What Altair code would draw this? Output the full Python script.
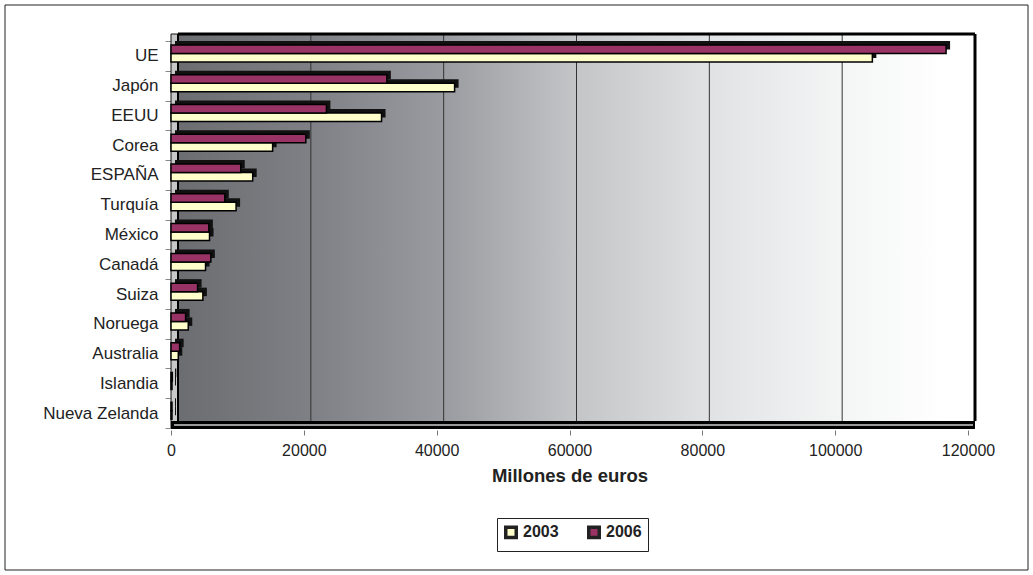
import altair as alt
import pandas as pd

# Data (millones de euros)
paises = ["UE", "Japón", "EEUU", "Corea", "ESPAÑA", "Turquía", "México",
          "Canadá", "Suiza", "Noruega", "Australia", "Islandia", "Nueva Zelanda"]
v2003 = [105600, 42700, 31700, 15300, 12300, 9800, 5800, 5200, 4800, 2600, 1100, 150, 150]
v2006 = [116700, 32500, 23400, 20300, 10500, 8100, 5700, 6000, 4000, 2200, 1300, 200, 150]
series = ["2003", "2006"]
colors = ["#FFFFCC", "#993366"]
x_ticks = [0, 20000, 40000, 60000, 80000, 100000, 120000]
grid_vals = [20000, 40000, 60000, 80000, 100000]

W, H = 797, 387   # front plane of the plot
D = 7             # depth of the 3-D back wall

df = pd.DataFrame({
    "pais": paises * 2,
    "serie": ["2003"] * len(paises) + ["2006"] * len(paises),
    "valor": v2003 + v2006,
})
grid_df = pd.DataFrame({"valor": grid_vals})
one = pd.DataFrame({"k": [0]})

x_scale = alt.Scale(domain=[0, 120000], nice=False)
y_scale = alt.Scale(domain=paises, paddingInner=0, paddingOuter=0)

x_axis = alt.Axis(values=x_ticks, format="d", domain=False, grid=False,
                  tickSize=5, tickColor="#777", offset=2,
                  labelFontSize=16, labelColor="#222", labelPadding=7,
                  labelOverlap=False, labelFlush=False,
                  title="Millones de euros", titleFontSize=18.5,
                  titleFontWeight="bold", titleColor="#222", titlePadding=8)
y_axis = alt.Axis(title=None, tickBand="extent", tickSize=6, tickColor="#888",
                  domainColor="#888", labelFontSize=17, labelColor="#222",
                  labelPadding=7)

# outer frame of the figure
frame = alt.Chart(one).mark_rect(filled=False, stroke="#222", strokeWidth=1).encode(
    x=alt.value(-166), x2=alt.value(857), y=alt.value(-36), y2=alt.value(529)
)

# left side wall
side_wall = alt.Chart(one).mark_rect(fill="#c8c8c8", stroke="#111", strokeWidth=1).encode(
    x=alt.value(0), x2=alt.value(D), y=alt.value(-D), y2=alt.value(H)
)

# back wall with grey-to-white gradient
back_wall = alt.Chart(one).mark_rect(
    fill={
        "gradient": "linear", "x1": 0, "x2": 1, "y1": 0, "y2": 0,
        "stops": [
            {"offset": 0.0, "color": "#6c6d71"},
            {"offset": 0.167, "color": "#7f8085"},
            {"offset": 0.333, "color": "#9a9ba0"},
            {"offset": 0.5, "color": "#c3c5c7"},
            {"offset": 0.667, "color": "#e1e2e4"},
            {"offset": 0.833, "color": "#f4f5f5"},
            {"offset": 0.96, "color": "#ffffff"},
            {"offset": 1.0, "color": "#ffffff"},
        ],
    }
).encode(x=alt.value(D), x2=alt.value(W + D), y=alt.value(-D), y2=alt.value(H - D))

grid = alt.Chart(grid_df).mark_rule(color="#333", strokeWidth=1, xOffset=D).encode(
    x=alt.X("valor:Q", scale=x_scale, axis=x_axis),
    y=alt.value(-D), y2=alt.value(H - D),
)

top_edge = alt.Chart(one).mark_rule(color="#000", strokeWidth=3).encode(
    x=alt.value(D), x2=alt.value(W + D), y=alt.value(-D)
)
right_edge = alt.Chart(one).mark_rule(color="#000", strokeWidth=3).encode(
    x=alt.value(W + D), y=alt.value(-D), y2=alt.value(H - D)
)
left_edge = alt.Chart(one).mark_rule(color="#000", strokeWidth=2).encode(
    x=alt.value(D), y=alt.value(-D), y2=alt.value(H - D)
)

# floor
floor = alt.Chart(one).mark_rect(fill="#000").encode(
    x=alt.value(0), x2=alt.value(W + D), y=alt.value(H - D), y2=alt.value(H + 1)
)
floor_line = alt.Chart(one).mark_rule(color="#9a9a9a", strokeWidth=2).encode(
    x=alt.value(3), x2=alt.value(W + D - 2), y=alt.value(H - 3)
)

# bar depth (top and end faces)
shadow = alt.Chart(df).mark_bar(color="#111", xOffset=4).encode(
    x=alt.X("valor:Q", scale=x_scale, axis=x_axis),
    y=alt.Y("pais:N", scale=y_scale, axis=y_axis),
    yOffset=alt.YOffset("serie:N", sort=["2006", "2003"],
                        scale=alt.Scale(range=[0, 17], paddingInner=0, paddingOuter=0)),
)

# bar front faces
bars = alt.Chart(df).mark_bar(stroke="#000", strokeWidth=1.5).encode(
    x=alt.X("valor:Q", scale=x_scale, axis=x_axis),
    y=alt.Y("pais:N", scale=y_scale, axis=y_axis),
    yOffset=alt.YOffset("serie:N", sort=["2006", "2003"],
                        scale=alt.Scale(range=[4, 21], paddingInner=0, paddingOuter=0)),
    color=alt.Color("serie:N", scale=alt.Scale(domain=series, range=colors),
                    legend=alt.Legend(title=None, orient="none", legendX=326, legendY=477,
                                      direction="horizontal", symbolType="square",
                                      symbolSize=110, symbolStrokeWidth=3.5,
                                      symbolStrokeColor="#222", symbolOpacity=1,
                                      labelFontSize=16, labelFontWeight="bold",
                                      labelColor="#222", labelOffset=4,
                                      columnPadding=22, padding=6,
                                      strokeColor="#222")),
)

chart = alt.layer(
    frame, side_wall, back_wall, grid, left_edge, top_edge, right_edge,
    floor, floor_line, shadow, bars
).resolve_scale(yOffset="independent").properties(
    width=W, height=H,
    autosize=alt.AutoSizeParams(type="none"),
    padding={"left": 171, "top": 41, "right": 1033 - 171 - W, "bottom": 575 - 41 - H},
).configure(font="Liberation Sans").configure_view(strokeWidth=0)

chart.save("out.html", embed_options={"renderer": "svg", "actions": False})
